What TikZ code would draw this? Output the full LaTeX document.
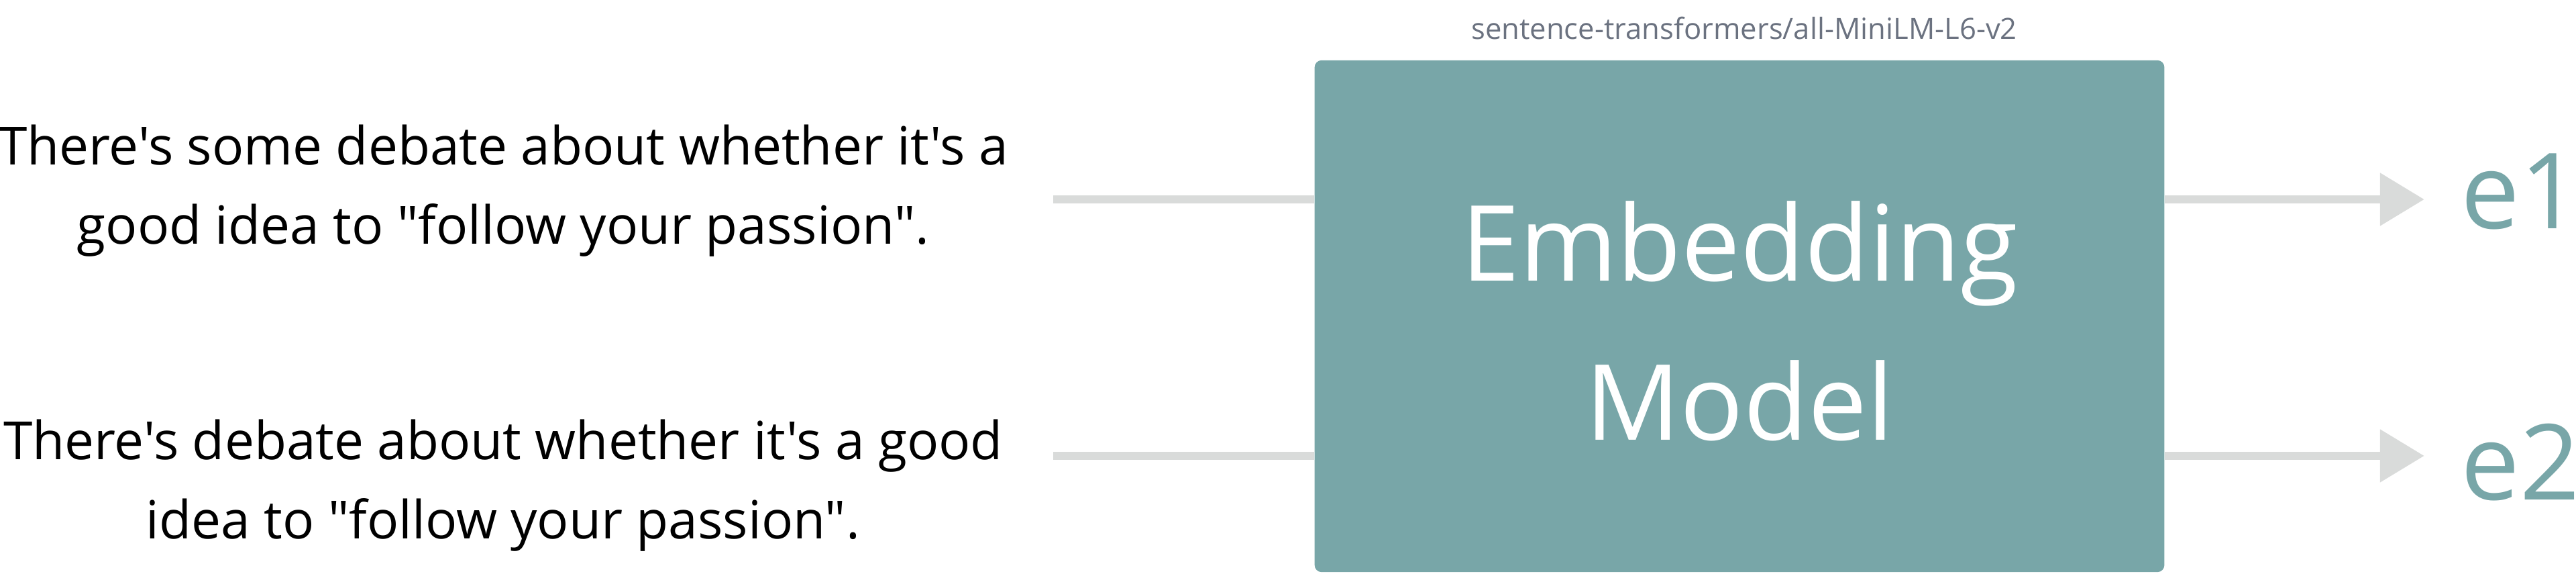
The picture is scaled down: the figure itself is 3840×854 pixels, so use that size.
\documentclass[tikz,border=0pt]{standalone}
\usepackage{fontspec}
\usepackage{tikz}
\usetikzlibrary{arrows.meta}
\newfontfamily\opensans{Open Sans}
\definecolor{modelteal}{HTML}{78A6A8}
\definecolor{flowgray}{HTML}{D9DBDA}
\definecolor{namegray}{HTML}{6B7280}

\begin{document}
\begin{tikzpicture}[x=0.01cm,y=0.01cm,
  sentence/.style={align=center,inner sep=0pt,font=\opensans\fontsize{22.3}{33.6}\selectfont},
  flow/.style={draw=flowgray,line width=3.6pt},
  vec/.style={anchor=base west,inner sep=0pt,text=modelteal,font=\opensans\fontsize{44.5}{54}\selectfont}]
\useasboundingbox (0,0) rectangle (3840,854);

\node[fill=modelteal,rounded corners=3pt,minimum width=12.66cm,minimum height=7.62cm,inner sep=0pt,
  align=center,text=white,text height=104.7pt,text depth=0pt,font=\opensans\fontsize{44.5}{67.4}\selectfont] (model) at (2593,383) {Embedding\\Model};
\node[anchor=base,inner sep=0pt,text=namegray,font=\opensans\fontsize{12.4}{14}\selectfont] (name) at (2600,795) {sentence-transformers/all-MiniLM-L6-v2};

\node[sentence] (s1) at (750,570) {There's some debate about whether it's a\\good idea to "follow your passion".};
\node[sentence] (s2) at (750,131) {There's debate about whether it's a good\\idea to "follow your passion".};

\coordinate (in1) at (1570,557);
\coordinate (in2) at (1570,175);
\draw[flow] (in1) -- (in1 -| model.west);
\draw[flow] (in2) -- (in2 -| model.west);

\node[vec] (e1) at (3668,514) {e1};
\node[vec] (e2) at (3668,110) {e2};
\draw[flow,-{Triangle[length=18.8pt,width=21.6pt]},shorten >=15.4pt] (model.east |- in1) -- (e1.west |- in1);
\draw[flow,-{Triangle[length=18.8pt,width=21.6pt]},shorten >=15.4pt] (model.east |- in2) -- (e2.west |- in2);
\end{tikzpicture}
\end{document}
